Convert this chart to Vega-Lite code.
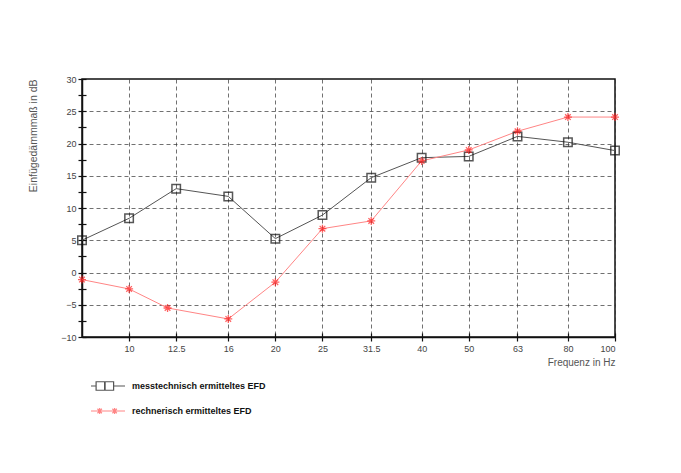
{
  "$schema": "https://vega.github.io/schema/vega-lite/v6.json",
  "width": 533,
  "height": 258,
  "autosize": {"type": "none"},
  "padding": {"left": 82, "top": 79, "right": 66, "bottom": 136},
  "background": "white",
  "config": {
    "view": {"stroke": "#111111", "strokeWidth": 1.5},
    "font": "Liberation Sans",
    "axis": {
      "labelFont": "Liberation Sans",
      "titleFont": "Liberation Sans",
      "labelColor": "#444444",
      "titleColor": "#555555",
      "labelFontSize": 9,
      "titleFontSize": 10,
      "titleFontWeight": "normal",
      "domainColor": "#111111",
      "domainWidth": 1.5,
      "tickColor": "#111111",
      "tickWidth": 1.2,
      "gridColor": "#333333",
      "gridDash": [4, 3],
      "gridWidth": 0.7
    }
  },
  "data": {
    "values": [
      {"f": 8, "v": 5.0, "s": "messtechnisch ermitteltes EFD"},
      {"f": 10, "v": 8.4, "s": "messtechnisch ermitteltes EFD"},
      {"f": 12.5, "v": 13.0, "s": "messtechnisch ermitteltes EFD"},
      {"f": 16, "v": 11.8, "s": "messtechnisch ermitteltes EFD"},
      {"f": 20, "v": 5.25, "s": "messtechnisch ermitteltes EFD"},
      {"f": 25, "v": 8.9, "s": "messtechnisch ermitteltes EFD"},
      {"f": 31.5, "v": 14.7, "s": "messtechnisch ermitteltes EFD"},
      {"f": 40, "v": 17.8, "s": "messtechnisch ermitteltes EFD"},
      {"f": 50, "v": 18.0, "s": "messtechnisch ermitteltes EFD"},
      {"f": 63, "v": 21.1, "s": "messtechnisch ermitteltes EFD"},
      {"f": 80, "v": 20.2, "s": "messtechnisch ermitteltes EFD"},
      {"f": 100, "v": 18.9, "s": "messtechnisch ermitteltes EFD"},
      {"f": 8, "v": -1.1, "s": "rechnerisch ermitteltes EFD"},
      {"f": 10, "v": -2.55, "s": "rechnerisch ermitteltes EFD"},
      {"f": 12, "v": -5.5, "s": "rechnerisch ermitteltes EFD"},
      {"f": 16, "v": -7.2, "s": "rechnerisch ermitteltes EFD"},
      {"f": 20, "v": -1.5, "s": "rechnerisch ermitteltes EFD"},
      {"f": 25, "v": 6.8, "s": "rechnerisch ermitteltes EFD"},
      {"f": 31.5, "v": 8.0, "s": "rechnerisch ermitteltes EFD"},
      {"f": 40, "v": 17.3, "s": "rechnerisch ermitteltes EFD"},
      {"f": 50, "v": 19.0, "s": "rechnerisch ermitteltes EFD"},
      {"f": 63, "v": 21.9, "s": "rechnerisch ermitteltes EFD"},
      {"f": 80, "v": 24.1, "s": "rechnerisch ermitteltes EFD"},
      {"f": 100, "v": 24.1, "s": "rechnerisch ermitteltes EFD"}
    ]
  },
  "layer": [
    {
      "mark": {"type": "line", "strokeWidth": 1, "clip": false},
      "encoding": {
        "x": {
          "field": "f", "type": "quantitative",
          "scale": {"type": "log", "domain": [8, 100], "nice": false},
          "axis": {
            "values": [10, 12.5, 16, 20, 25, 31.5, 40, 50, 63, 80, 100],
            "format": "~g",
            "title": "Frequenz in Hz",
            "titleAnchor": "end",
            "titleAlign": "right",
            "titlePadding": 4,
            "tickSize": 4,
            "labelPadding": 3,
            "grid": true
          }
        },
        "y": {
          "field": "v", "type": "quantitative",
          "scale": {"domain": [-10, 30], "nice": false},
          "axis": {
            "values": [-10, -7.5, -5, -2.5, 0, 2.5, 5, 7.5, 10, 12.5, 15, 17.5, 20, 22.5, 25, 27.5, 30],
            "labelExpr": "datum.value % 5 == 0 ? datum.label : ''",
            "title": "Einfügedämmmaß in dB",
            "titleAnchor": "end",
            "titleFontSize": 10.5,
            "titlePadding": 22,
            "tickSize": 4,
            "labelPadding": 2,
            "grid": true,
            "gridOpacity": {"condition": {"test": "datum.value % 5 != 0 || datum.value == 30 || datum.value == -10", "value": 0}, "value": 1}
          }
        },
        "color": {
          "field": "s", "type": "nominal",
          "scale": {
            "domain": ["messtechnisch ermitteltes EFD", "rechnerisch ermitteltes EFD"],
            "range": ["#555555", "#ff8585"]
          },
          "legend": {
            "orient": "none",
            "legendX": 8,
            "legendY": 289,
            "title": null,
            "symbolSize": 1156,
            "symbolStrokeWidth": 1.2,
            "labelFont": "Liberation Sans",
            "labelFontWeight": "bold",
            "labelFontSize": 9,
            "labelColor": "#111111",
            "labelOffset": 6,
            "rowPadding": -6,
            "encode": {
              "symbols": {
                "update": {
                  "shape": {"signal": "datum.value === 'messtechnisch ermitteltes EFD' ? 'M-1,0H-0.7M-0.7,-0.25H-0.2V0.25H-0.7ZM-0.17,-0.25H0.33V0.25H-0.17ZM0.33,0H1' : 'M-1,0H1M-0.67,0H-0.31M-0.49,-0.18V0.18M-0.62,-0.13L-0.36,0.13M-0.62,0.13L-0.36,-0.13M0.21,0H0.57M0.39,-0.18V0.18M0.26,-0.13L0.52,0.13M0.26,0.13L0.52,-0.13'"},
                  "stroke": {"signal": "datum.value === 'messtechnisch ermitteltes EFD' ? '#111111' : '#ff2a2a'"},
                  "fill": {"value": "transparent"}
                }
              }
            }
          }
        }
      }
    },
    {
      "transform": [{"filter": "datum.s === 'messtechnisch ermitteltes EFD'"}],
      "mark": {"type": "point", "shape": "square", "filled": false, "stroke": "#111111", "strokeWidth": 1.5, "size": 72, "clip": false},
      "encoding": {
        "x": {"field": "f", "type": "quantitative", "axis": {"orient": "bottom", "values": [10, 12.5, 16, 20, 25, 31.5, 40, 50, 63, 80, 100], "tickSize": -4, "labels": false, "domain": false, "grid": false, "title": null}},
        "y": {"field": "v", "type": "quantitative", "axis": {"orient": "left", "values": [-10, -7.5, -5, -2.5, 0, 2.5, 5, 7.5, 10, 12.5, 15, 17.5, 20, 22.5, 25, 27.5, 30], "tickSize": -4, "labels": false, "domain": false, "grid": false, "title": null}}
      }
    },
    {
      "transform": [{"filter": "datum.s === 'rechnerisch ermitteltes EFD'"}],
      "mark": {"type": "point", "shape": "M-1,0H1M0,-1V1M-0.7,-0.7L0.7,0.7M-0.7,0.7L0.7,-0.7", "filled": false, "stroke": "#ff2020", "strokeWidth": 1.3, "size": 64, "clip": false},
      "encoding": {
        "x": {"field": "f", "type": "quantitative", "axis": null},
        "y": {"field": "v", "type": "quantitative", "axis": null}
      }
    }
  ],
  "resolve": {"axis": {"x": "independent", "y": "independent"}}
}
